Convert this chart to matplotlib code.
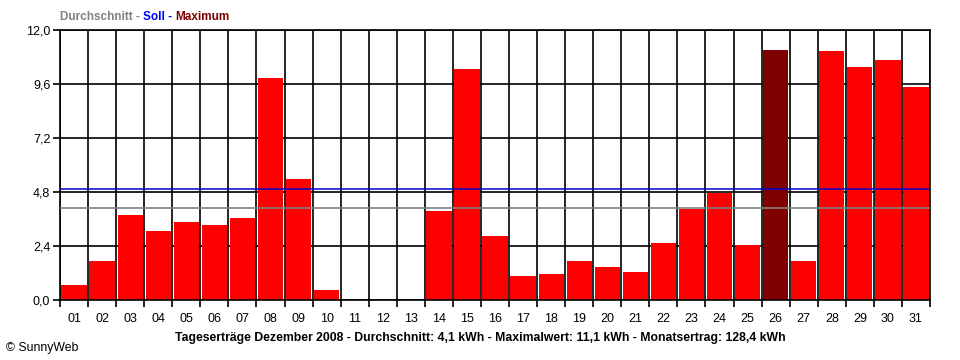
import matplotlib
matplotlib.use("Agg")
import matplotlib.pyplot as plt
import numpy as np

days = [f"{d:02d}" for d in range(1, 32)]
values = [0.67, 1.75, 3.78, 3.07, 3.47, 3.33, 3.64, 9.87, 5.38, 0.44,
          0.0, 0.0, 0.0, 3.96, 10.27, 2.84, 1.07, 1.16, 1.73, 1.47,
          1.24, 2.53, 4.06, 4.77, 2.44, 11.1, 1.73, 11.07, 10.36, 10.67, 9.47]
average = 4.1
soll = 4.92
max_day = "26"
yticks = [0.0, 2.4, 4.8, 7.2, 9.6, 12.0]
ytick_labels = ["0,0", "2,4", "4,8", "7,2", "9,6", "12,0"]
caption = ("Tageserträge Dezember 2008 - Durchschnitt: 4,1 kWh - "
           "Maximalwert: 11,1 kWh - Monatsertrag: 128,4 kWh")

plt.rcParams['font.family'] = ['Liberation Sans', 'DejaVu Sans']

fig = plt.figure(figsize=(9.6, 3.6), dpi=100)
ax = fig.add_axes([60/960, 60/360, 870/960, 270/360])

x = np.arange(1, len(days) + 1)
colors = ['#800000' if d == max_day else '#ff0000' for d in days]

# grid
for yt in yticks:
    ax.axhline(yt, color='black', lw=1.2, zorder=1)
for b in np.arange(0.5, len(days) + 1, 1.0):
    ax.axvline(b, color='black', lw=1.2, zorder=1)

ax.bar(x, values, width=0.9, color=colors, zorder=2)
ax.axhline(soll, color='#0000cc', lw=1.1, zorder=3)
ax.axhline(average, color='#808080', lw=1.2, zorder=3)

ax.set_xlim(0.5, len(days) + 0.5)
ax.set_ylim(0, 12.0)
ax.set_xticks(np.arange(0.5, len(days) + 1, 1.0))
ax.set_xticklabels([])
ax.set_xticks(x, minor=True)
ax.set_xticklabels(days, minor=True, fontsize=9)
ax.tick_params(axis='x', which='major', length=5, width=1.2, direction='out')
ax.tick_params(axis='x', which='minor', length=0, pad=9)
ax.set_yticks(yticks)
ax.set_yticklabels(ytick_labels, fontsize=9)
ax.tick_params(axis='y', length=5, width=1.2, direction='out', pad=2)
for s in ax.spines.values():
    s.set_color('black')
    s.set_linewidth(1.2)

# legend title
t1 = fig.text(60/960, 1 - 17/360, "Durchschnitt - ", color='#808080',
              fontsize=8.5, fontweight='bold', va='center', ha='left')
t2 = ax.annotate("Soll - ", xy=(1, 0), xycoords=t1, va='bottom', ha='left',
                 color='#0000ff', fontsize=8.5, fontweight='bold',
                 annotation_clip=False)
t3 = ax.annotate("Maximum", xy=(1, 0), xycoords=t2, va='bottom', ha='left',
                 color='#800000', fontsize=8.5, fontweight='bold',
                 annotation_clip=False)

fig.text(480/960, 1 - 338/360, caption, ha='center', va='center',
         fontsize=8.8, fontweight='bold', color='black')
fig.text(6/960, 1 - 348/360, "© SunnyWeb", ha='left', va='center',
         fontsize=8.8, color='black')

fig.savefig("out.png", dpi=100)
